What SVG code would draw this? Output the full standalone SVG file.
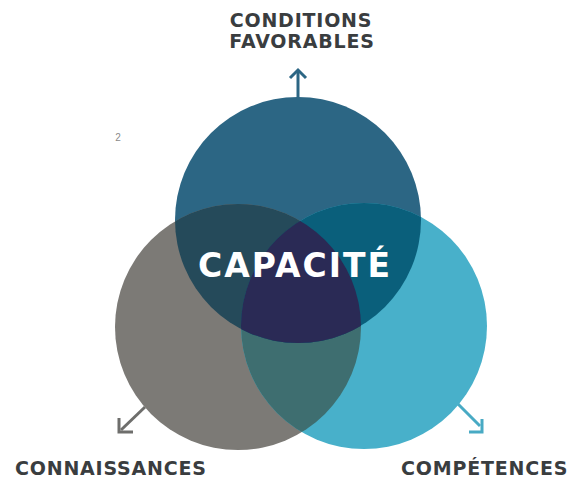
<svg xmlns="http://www.w3.org/2000/svg" width="574" height="479" viewBox="0 0 574 479">
  <style>
    .lbl { font-family: "DejaVu Sans", "Liberation Sans", sans-serif; font-weight: bold; font-size: 19px; fill: #3a3d3f; letter-spacing: 0.8px; }
    .center { font-family: "DejaVu Sans", "Liberation Sans", sans-serif; font-weight: bold; font-size: 33px; fill: #ffffff; letter-spacing: 2px; }
    .arrow { fill: none; stroke-width: 3; stroke-linecap: butt; stroke-linejoin: miter; }
  </style>
  <defs>
    <clipPath id="clipL"><circle cx="238" cy="327" r="123"/></clipPath>
    <clipPath id="clipR"><circle cx="364" cy="326" r="123"/></clipPath>
  </defs>
  <rect width="574" height="479" fill="#ffffff"/>
  <g id="connectors">
    <g id="arrow-top" stroke="#2c6684" class="arrow">
      <line x1="298" y1="99" x2="298" y2="71"/>
      <polyline points="290,78 298,70 306,78"/>
    </g>
    <g id="arrow-left" stroke="#6e6e6c" class="arrow">
      <line x1="145" y1="407" x2="121" y2="430"/>
      <polyline points="119,418 119,432 133,432"/>
    </g>
    <g id="arrow-right" stroke="#48aac4" class="arrow">
      <line x1="457" y1="403" x2="480" y2="426"/>
      <polyline points="482,419 482,432 469,432"/>
    </g>
  </g>
  <g id="node-conditions">
    <circle cx="298" cy="220" r="123" fill="#2c6684"/>
    <text class="lbl" x="301" y="27" text-anchor="middle">CONDITIONS</text>
    <text class="lbl" x="302" y="48" text-anchor="middle">FAVORABLES</text>
  </g>
  <g id="node-connaissances">
    <circle cx="238" cy="327" r="123" fill="#7c7a76"/>
    <text class="lbl" x="15" y="475">CONNAISSANCES</text>
  </g>
  <g id="node-competences">
    <circle cx="364" cy="326" r="123" fill="#48b0ca"/>
    <text class="lbl" x="401" y="475">COMPÉTENCES</text>
  </g>
  <g id="overlaps">
    <circle cx="364" cy="326" r="123" fill="#3e6e70" clip-path="url(#clipL)"/>
    <circle cx="298" cy="220" r="123" fill="#254a5a" clip-path="url(#clipL)"/>
    <circle cx="298" cy="220" r="123" fill="#0a5f7b" clip-path="url(#clipR)"/>
    <g clip-path="url(#clipR)">
      <circle cx="298" cy="220" r="123" fill="#2a2a55" clip-path="url(#clipL)"/>
    </g>
  </g>
  <g id="node-capacite">
    <text class="center" x="198" y="277">CAPACITÉ</text>
  </g>
  <text x="118" y="141" font-family="Liberation Sans, sans-serif" font-size="10" fill="#8a8a8a" text-anchor="middle">2</text>
</svg>
